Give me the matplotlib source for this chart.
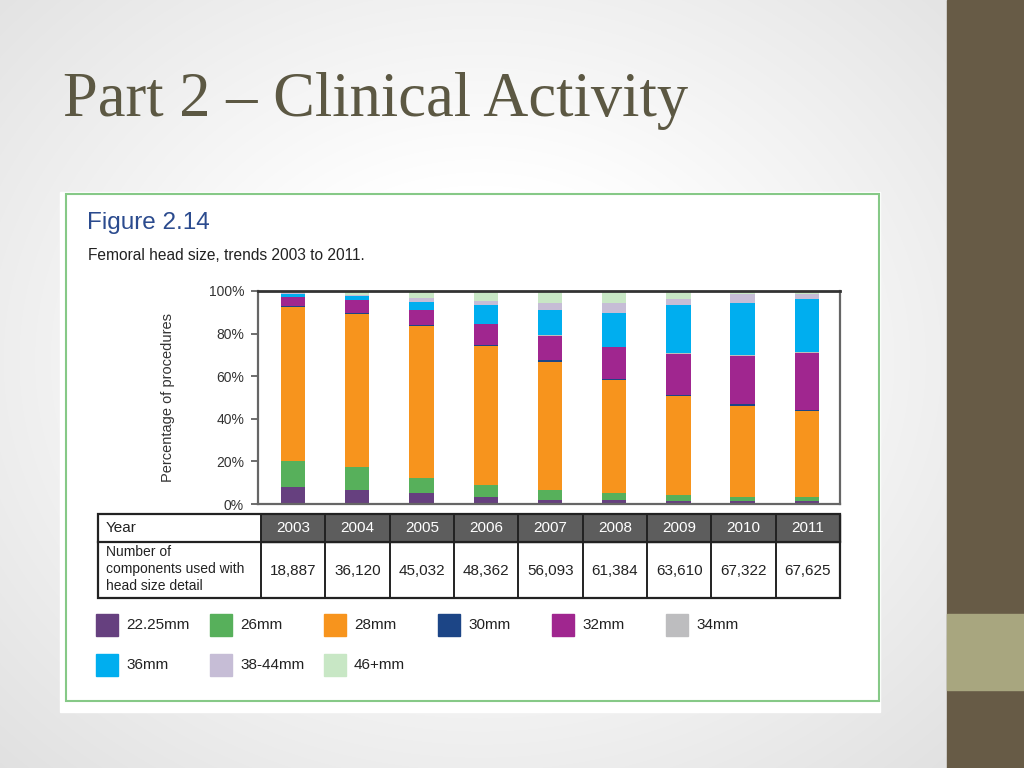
import numpy as np
import matplotlib
matplotlib.use("Agg")
import matplotlib.pyplot as plt
from matplotlib.patches import Rectangle

# ---------------- data ----------------
years = ["2003", "2004", "2005", "2006", "2007", "2008", "2009", "2010", "2011"]
components = ["18,887", "36,120", "45,032", "48,362", "56,093", "61,384", "63,610", "67,322", "67,625"]
sizes = ["22.25mm", "26mm", "28mm", "30mm", "32mm", "34mm", "36mm", "38-44mm", "46+mm"]
colors = ["#66407f", "#57b05b", "#f7941d", "#1c4586", "#a0268f", "#bdbdbf", "#00aeef", "#c6bdd6", "#c8e7c5"]

s_2225 = [7.8, 6.5, 5.0, 3.1, 2.0, 2.0, 1.4, 1.4, 1.4]
s_26 = [12.4, 10.9, 7.4, 5.8, 4.7, 3.0, 2.8, 1.9, 1.9]
s_28 = [72.3, 71.7, 71.3, 65.3, 60.2, 53.0, 46.3, 42.9, 40.2]
s_30 = [0.5, 0.6, 0.5, 0.6, 0.7, 0.6, 0.6, 0.6, 0.5]
s_32 = [4.2, 5.9, 6.8, 9.6, 11.4, 15.0, 19.4, 22.9, 27.1]
s_34 = [0.2, 0.3, 0.3, 0.3, 0.3, 0.3, 0.3, 0.4, 0.3]
s_36 = [1.2, 1.8, 3.6, 8.5, 12.0, 16.0, 22.4, 24.3, 25.0]
s_3844 = [0.6, 0.5, 1.8, 2.0, 3.1, 4.5, 2.9, 4.0, 2.4]
s_46 = [0.8, 1.8, 3.3, 4.8, 5.6, 5.6, 3.9, 1.6, 1.2]
series = [s_2225, s_26, s_28, s_30, s_32, s_34, s_36, s_3844, s_46]

W, H = 1024, 768
fig = plt.figure(figsize=(W / 100, H / 100), dpi=100)

# ---------------- slide background ----------------
bg = fig.add_axes([0, 0, 1, 1], zorder=0)
yy, xx = np.mgrid[0:H, 0:W]
r = np.sqrt(((xx - 480) / 600.0) ** 2 + ((yy - 360) / 500.0) ** 2)
val = 1.0 - 0.15 * np.clip(r - 0.35, 0, None)
img = np.dstack([val, val, val])
bg.imshow(img, extent=[0, W, H, 0], aspect="auto", interpolation="bilinear")
bg.set_xlim(0, W)
bg.set_ylim(H, 0)
bg.axis("off")

# right decorative bar
bg.add_patch(Rectangle((947, 0), 77, H, color="#675b46", zorder=2))
bg.add_patch(Rectangle((947, 614), 77, 76, color="#a8a67f", zorder=3))

# title
bg.text(63, 101, "Part 2 \u2013 Clinical Activity", fontsize=45, family="Liberation Serif",
        color="#5c5843", va="center", ha="left", zorder=4)

# white image panel + green border
bg.add_patch(Rectangle((60, 192), 820, 520, color="white", zorder=2))
bg.add_patch(Rectangle((66, 194), 813, 507, fill=False, edgecolor="#86c987", lw=1.5, zorder=3))

SANS = "Liberation Sans"
bg.text(87, 223, "Figure 2.14", fontsize=17.5, family=SANS, color="#2b4b8e", va="center", ha="left", zorder=4)
bg.text(88, 256, "Femoral head size, trends 2003 to 2011.", fontsize=11.2, family=SANS,
        color="#222222", va="center", ha="left", zorder=4)

# ---------------- bar chart ----------------
L, R, T, B = 258, 840, 291, 504
ax = fig.add_axes([L / W, 1 - B / H, (R - L) / W, (B - T) / H], zorder=5)
x = np.arange(len(years))
bottom = np.zeros(len(years))
for vals, c, lab in zip(series, colors, sizes):
    ax.bar(x, vals, width=0.38, bottom=bottom, color=c, label=lab, linewidth=0)
    bottom += np.array(vals)
ax.set_xlim(-0.545, 8.515)
ax.set_ylim(0, 100)
ax.set_xticks([])
ax.set_yticks([0, 20, 40, 60, 80, 100])
ax.set_yticklabels(["0%", "20%", "40%", "60%", "80%", "100%"], fontsize=10, family=SANS, color="#333333")
ax.tick_params(axis="y", direction="out", length=5, width=1.2, color="#555555", pad=5)
for sp in ax.spines.values():
    sp.set_color("#666666")
    sp.set_linewidth(1.6)
ax.spines["top"].set_color("#333333")
ax.spines["top"].set_linewidth(2.0)
ax.set_ylabel("Percentage of procedures", fontsize=10.5, family=SANS, color="#333333")
ax.yaxis.set_label_coords(-0.143, 0.5)

# ---------------- table ----------------
tl, tr, tt, tm, tb = 98, 840, 514, 542, 598
cw = (tr - 261) / len(years)
bg.add_patch(Rectangle((261, tt), tr - 261, tm - tt, color="#5d5d5d", zorder=4))
bg.add_patch(Rectangle((tl, tt), tr - tl, tb - tt, fill=False, edgecolor="#222222", lw=1.6, zorder=5))
bg.plot([tl, tr], [tm, tm], color="#222222", lw=1.6, zorder=5)
for k in range(len(years)):
    xv = 261 + k * cw
    bg.plot([xv, xv], [tt, tb], color="#222222", lw=1.4, zorder=5)
bg.text(106, 528, "Year", fontsize=11, family=SANS, color="#222222", va="center", ha="left", zorder=6)
bg.text(106, 569, "Number of\ncomponents used with\nhead size detail", fontsize=10, family=SANS,
        color="#222222", va="center", ha="left", linespacing=1.25, zorder=6)
for k, (yr, n) in enumerate(zip(years, components)):
    cx = 261 + (k + 0.5) * cw
    bg.text(cx, 528, yr, fontsize=11, family=SANS, color="white", va="center", ha="center", zorder=6)
    bg.text(cx, 571, n, fontsize=11, family=SANS, color="#222222", va="center", ha="center", zorder=6)

# ---------------- legend ----------------
for i, (lab, c) in enumerate(zip(sizes, colors)):
    row, col = divmod(i, 6)
    lx = 96 + col * 114
    ly = 625 + row * 40
    bg.add_patch(Rectangle((lx, ly - 11), 22, 22, color=c, zorder=6))
    bg.text(lx + 30, ly, lab, fontsize=11, family=SANS, color="#222222", va="center", ha="left", zorder=6)

fig.savefig("out.png", dpi=100)
